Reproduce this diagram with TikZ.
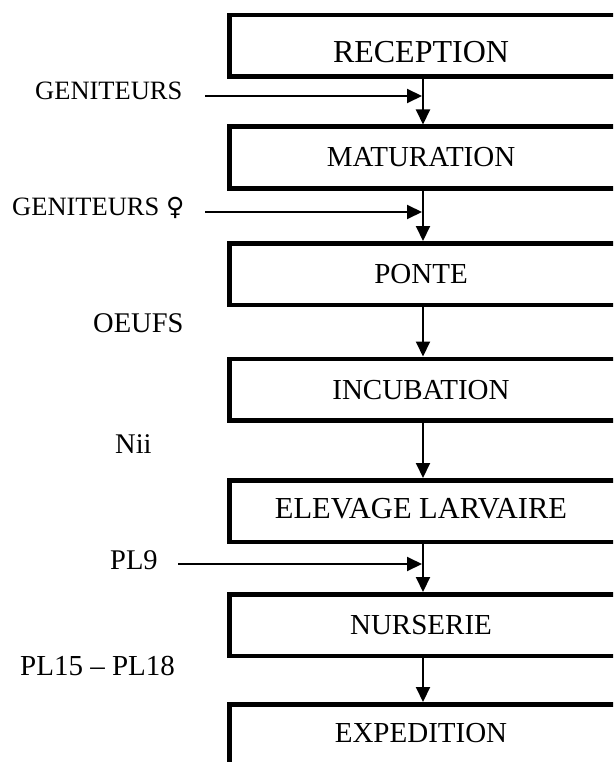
\documentclass[tikz,border=0pt]{standalone}
\usepackage{fontspec}
\setmainfont{Liberation Serif}
\newfontfamily\symbfont{DejaVu Sans}
\usetikzlibrary{arrows.meta}
\tikzset{
  stagebox/.style={draw, line width=4.5pt, minimum width=387.5pt, minimum height=61.5pt, inner sep=0pt},
  stagetext/.style={font=\fontsize{29}{29}\selectfont, anchor=base, inner sep=0pt},
  inlabel/.style={font=\fontsize{26.5}{26.5}\selectfont, anchor=base west, inner sep=0pt},
  flowlabel/.style={font=\fontsize{28.5}{28.5}\selectfont, anchor=base west, inner sep=0pt},
  flow/.style={line width=2pt, -{Triangle[length=15pt, width=14pt]}},
  feed/.style={line width=2pt, -{Triangle[length=15pt, width=14pt]}}
}
\begin{document}
\begin{tikzpicture}[x=1pt, y=-1pt]
  \useasboundingbox (0,0) rectangle (613,762);
  \begin{scope}
    \clip (0,0) rectangle (613,762);
    % process stages
    \node[stagebox] (rec) at (423,46) {};
    \node[stagebox] (mat) at (423,157.5) {};
    \node[stagebox] (pon) at (423,274) {};
    \node[stagebox] (inc) at (423,389.5) {};
    \node[stagebox] (ele) at (423,511) {};
    \node[stagebox] (nur) at (423,625) {};
    \node[stagebox] (exp) at (423,735) {};
  \end{scope}
  % stage names
  \node[stagetext, font=\fontsize{32}{32}\selectfont] (trec) at (421,63) {RECEPTION};
  \node[stagetext] (tmat) at (421,167) {MATURATION};
  \node[stagetext] (tpon) at (421,283) {PONTE};
  \node[stagetext] (tinc) at (421,399) {INCUBATION};
  \node[stagetext, font=\fontsize{30.5}{30.5}\selectfont] (tele) at (421,518) {ELEVAGE LARVAIRE};
  \node[stagetext] (tnur) at (421,634) {NURSERIE};
  \node[stagetext] (texp) at (421,742) {EXPEDITION};
  % flow between stages
  \draw[flow] (rec.south) -- (mat.north);
  \draw[flow] (mat.south) -- (pon.north);
  \draw[flow] (pon.south) -- (inc.north);
  \draw[flow] (inc.south) -- (ele.north);
  \draw[flow] (ele.south) -- (nur.north);
  \draw[flow] (nur.south) -- (exp.north);
  % side labels
  \node[inlabel] (lgen) at (35,100) {GENITEURS};
  \node[inlabel] (lfem) at (12,215) {GENITEURS {\symbfont\fontsize{25}{25}\selectfont ♀}};
  \node[flowlabel] (loeu) at (93,332) {OEUFS};
  \node[flowlabel] (lnii) at (115,453) {Nii};
  \node[flowlabel] (lpl9) at (110,569) {PL9};
  \node[flowlabel, font=\fontsize{29}{29}\selectfont] (lpl15) at (20,675) {PL15 – PL18};
  % inputs joining the main flow
  \coordinate (sgen) at (205,96);
  \coordinate (sfem) at (205,212);
  \coordinate (spl9) at (178,564);
  \draw[feed] (sgen) -- ([xshift=-1pt]sgen -| rec.south);
  \draw[feed] (sfem) -- ([xshift=-1pt]sfem -| mat.south);
  \draw[feed] (spl9) -- ([xshift=-1pt]spl9 -| ele.south);
\end{tikzpicture}
\end{document}
